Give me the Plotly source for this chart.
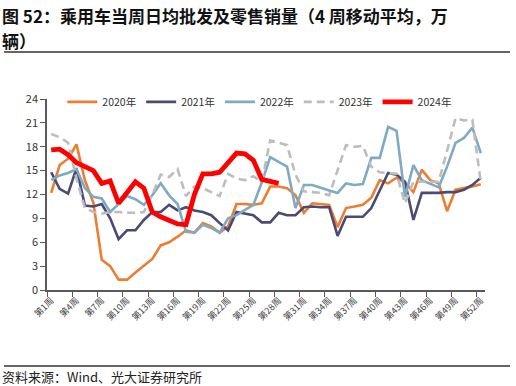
import plotly.graph_objects as go

weeks = list(range(1, 53))
tick_weeks = list(range(1, 53, 3))
tick_labels = [f"第{w}周" for w in tick_weeks]
boundary_ticks = [0.5 + 3 * k for k in range(18)]

y2020 = [12.2, 15.7, 16.5, 18.3, 13.8, 11.0, 3.8, 3.0, 1.3, 1.3, 2.2, 3.1, 3.9, 5.6, 6.0, 6.7, 7.5, 7.2, 8.4, 8.0,
         7.2, 8.0, 10.8, 10.8, 10.7, 10.9, 13.0, 13.0, 12.8, 11.9, 9.7, 10.9, 10.8, 10.7, 7.9, 10.3, 10.5, 10.7, 11.6, 13.8,
         13.4, 14.1, 13.5, 12.3, 15.1, 13.8, 13.4, 9.9, 12.6, 12.8, 13.0, 13.3]
y2021 = [14.8, 12.7, 12.1, 15.3, 10.6, 10.5, 10.8, 9.0, 6.4, 7.5, 7.5, 8.8, 9.8, 9.8, 10.7, 10.0, 10.4, 10.0, 9.8, 9.4,
         8.4, 7.5, 9.8, 9.6, 9.4, 8.5, 8.5, 9.7, 9.4, 9.4, 10.4, 10.5, 10.4, 10.4, 6.8, 9.2, 9.2, 9.2, 10.3, 12.4,
         14.7, 14.5, 13.6, 8.8, 12.2, 12.2, 12.2, 12.3, 12.3, 12.6, 13.2, 14.1]
y2022 = [13.8, 14.4, 14.7, 15.2, 12.8, 11.7, 11.5, 9.8, 10.8, 11.8, 11.4, 10.7, 11.9, 13.4, 11.9, 10.8, 7.3, 7.2, 8.2, 7.8,
         7.2, 9.0, 9.4, 10.0, 10.7, 13.5, 16.7, 16.1, 15.5, 10.3, 13.2, 13.2, 12.8, 12.5, 12.2, 13.4, 13.2, 13.3, 16.6, 16.6,
         20.5, 20.0, 11.7, 15.7, 13.8, 13.3, 12.9, 15.5, 18.5, 19.1, 20.4, 17.2]
y2023 = [19.6, 19.2, 18.5, 14.0, 10.3, 9.8, 9.6, 9.8, 9.8, 9.7, 9.7, 9.8, 12.0, 14.5, 14.2, 15.2, 11.8, 13.0, 12.8, 12.3,
         11.8, 14.6, 14.0, 13.8, 14.3, 13.6, 18.8, 18.5, 18.2, 14.5, 12.4, 12.3, 12.2, 11.9, 15.0, 18.2, 18.0, 18.1, 15.5, 14.8,
         14.7, 14.6, 10.9, 13.6, 13.6, 13.6, 13.6, 17.5, 21.6, 21.3, 21.4, 13.5]
y2024 = [17.6, 17.7, 17.0, 16.0, 15.5, 15.0, 13.4, 13.7, 10.9, 12.3, 13.6, 12.8, 9.8, 9.2, 8.8, 8.3, 8.2, 12.0, 14.6, 14.6,
         14.8, 16.0, 17.2, 17.1, 16.3, 13.9, 13.6, 13.4]

series = [
    ("2020年", y2020, "#ED7D31", 2.6, "solid"),
    ("2021年", y2021, "#4B4A72", 2.6, "solid"),
    ("2022年", y2022, "#7EAAC5", 2.6, "solid"),
    ("2023年", y2023, "#BDBDBD", 2.6, "8px,5px"),
    ("2024年", y2024, "#FF0000", 4.8, "solid"),
]

fig = go.Figure()
for name, ys, color, width, dash in series:
    fig.add_trace(go.Scatter(
        x=weeks[:len(ys)], y=ys, name=name, mode="lines",
        line=dict(color=color, width=width, dash=dash),
    ))

axis_color = "#595959"
fig.update_layout(
    width=516, height=386,
    margin=dict(l=47, r=31, t=99, b=96),
    paper_bgcolor="white", plot_bgcolor="white",
    font=dict(family="Noto Sans CJK SC, Noto Sans, sans-serif", color="#222222"),
    showlegend=True,
    legend=dict(orientation="h", x=0.035, xanchor="left", y=0.985, yanchor="middle",
                font=dict(size=10.5, color="#333333"), bgcolor="rgba(0,0,0,0)",
                itemwidth=30, tracegroupgap=0),
    xaxis=dict(
        range=[0.5, 52.5], showgrid=False, zeroline=False,
        showline=True, linecolor=axis_color, linewidth=1.5,
        tickvals=tick_weeks, ticktext=tick_labels, tickangle=-45, ticks="",
        tickfont=dict(size=9, color="#444444"),
        minor=dict(tickvals=boundary_ticks, ticks="outside", ticklen=5, tickcolor=axis_color, tickwidth=1),
    ),
    yaxis=dict(
        range=[0, 24], dtick=3, tick0=0, showgrid=False, zeroline=False,
        showline=True, linecolor=axis_color, linewidth=1.5,
        ticks="outside", ticklen=5, tickcolor=axis_color,
        tickfont=dict(size=11, color="#333333"),
    ),
)

fig.add_annotation(text="<b>图 52：乘用车当周日均批发及零售销量（4 周移动平均，万</b>",
                   xref="paper", yref="paper", x=-47/438, y=(290-15)/191, xanchor="left", yanchor="middle",
                   showarrow=False, font=dict(size=17, color="#111111"))
fig.add_annotation(text="<b>辆）</b>",
                   xref="paper", yref="paper", x=-47/438, y=(290-40)/191, xanchor="left", yanchor="middle",
                   showarrow=False, font=dict(size=17, color="#111111"))
fig.add_annotation(text="资料来源：Wind、光大证券研究所",
                   xref="paper", yref="paper", x=-47/438, y=(290-376)/191, xanchor="left", yanchor="middle",
                   showarrow=False, font=dict(size=13, color="#222222"))

fig.add_shape(type="line", xref="paper", yref="paper", x0=-43/438, x1=463/438,
              y0=(290-52)/191, y1=(290-52)/191, line=dict(color="#666666", width=2))
fig.add_shape(type="line", xref="paper", yref="paper", x0=-43/438, x1=463/438,
              y0=(290-366)/191, y1=(290-366)/191, line=dict(color="#666666", width=2))

fig.write_html("out.html", config={"displayModeBar": False},
               post_script="document.body.style.margin='0px';document.body.style.overflow='hidden';")
